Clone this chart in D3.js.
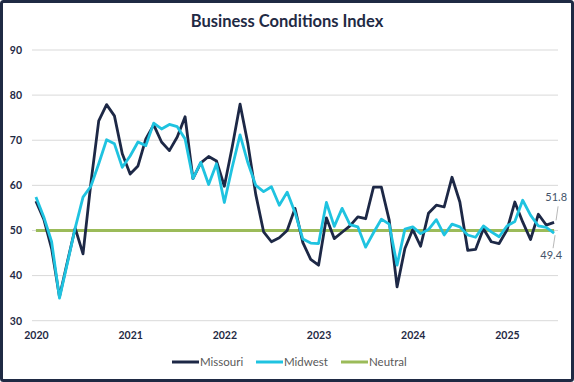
<!DOCTYPE html>
<html><head><meta charset="utf-8">
<script src="https://cdn.jsdelivr.net/npm/d3@7"></script>
<style>html,body{margin:0;padding:0;background:#fff;}svg{display:block;}</style>
</head><body><svg id="c" width="574" height="382"></svg>
<script>
const startMonth = "2020-01";
const endMonth = "2025-07";
const missouri = [56.5,52.5,46,35.3,43,50.5,44.8,60.5,74.3,77.9,75.4,67,
  62.5,64.3,70.3,73.4,69.6,67.7,70.7,75.2,61.5,65,66.4,65.4,
  59.8,68.5,78,69.2,58,49.7,47.5,48.4,50,54.9,47.3,43.6,
  42.3,52.8,48.2,49.6,51,53,52.6,59.6,59.6,52.3,37.5,46,
  50.2,46.5,53.8,55.6,55.2,61.8,56.3,45.6,45.8,50.4,47.5,47.1,
  50.1,56.3,51.9,48,53.6,51.2,51.8];
const midwest = [57.4,53,47.5,35,42.7,50.5,57.4,59.8,64.8,70.1,69.2,64,
  66.5,69.6,68.8,73.8,72.5,73.5,73,70.3,61.5,65.1,60.2,64.8,
  56.2,64,71.2,65,60,58.6,59.7,55.6,58.5,54,48.1,47.2,
  47.1,56.2,50.9,54.9,51.3,50.8,46.3,49.5,52.5,51.4,42.3,50.3,
  50.8,49.3,50.2,52.4,49,51.4,50.8,49,48.5,51,49.7,48.6,
  51,52,56.7,53.4,51,50.7,49.4];
const neutralValue = 50;
const yTicks = [30,40,50,60,70,80,90];
const xTickLabels = ["2020","2021","2022","2023","2024","2025"];
const seriesNames = ["Missouri","Midwest","Neutral"];

const months = d3.timeMonth.range(d3.timeParse("%Y-%m")(startMonth), d3.timeMonth.offset(d3.timeParse("%Y-%m")(endMonth),1));
const fmt = d3.timeFormat("%Y-%m");
const cats = months.map(fmt);
const neutral = cats.map(() => neutralValue);

const colors = {Missouri:"#1d2846", Midwest:"#1fc3e0", Neutral:"#9bbb59"};
const navy = "#1f2a44";
const svg = d3.select("#c");
svg.append("rect").attr("x",1.5).attr("y",1.5).attr("width",571).attr("height",379).attr("rx",2)
  .attr("fill","#fff").attr("stroke",navy).attr("stroke-width",3);

svg.append("text").attr("x",287).attr("y",27).attr("text-anchor","middle")
  .attr("font-family","Lato, 'Open Sans', sans-serif").attr("font-weight","bold")
  .attr("font-size",16.5).attr("fill",navy).text("Business Conditions Index");

const x = d3.scalePoint().domain(cats).range([32,558]).padding(0.5);
const y = d3.scaleLinear().domain([30,90]).range([320.7,50]);

const grid = svg.append("g");
grid.selectAll("line").data(yTicks).join("line")
  .attr("x1",32).attr("x2",558).attr("y1",d=>y(d)).attr("y2",d=>y(d))
  .attr("stroke","#d9d9d9").attr("stroke-width",1);

const yAxis = d3.axisLeft(y).tickValues(yTicks).tickSize(0).tickPadding(0);
const gy = svg.append("g").attr("transform","translate(22,0)").call(yAxis);
gy.select(".domain").remove();
gy.selectAll("text").attr("font-family","Lato, 'Open Sans', sans-serif").attr("font-weight","bold")
  .attr("font-size",10.5).attr("fill",navy);

const xAxis = d3.axisBottom(x).tickValues(xTickLabels.map(t=>t+"-01")).tickFormat(d=>d.slice(0,4)).tickSize(0).tickPadding(0);
const gx = svg.append("g").attr("transform","translate(0,332)").call(xAxis);
gx.select(".domain").remove();
gx.selectAll("text").attr("font-family","Lato, 'Open Sans', sans-serif").attr("font-weight","bold")
  .attr("font-size",10.5).attr("fill",navy);

const line = d3.line().x((d,i)=>x(cats[i])).y(d=>y(d));
svg.append("path").datum(neutral).attr("d",line).attr("fill","none")
  .attr("stroke",colors.Neutral).attr("stroke-width",3);
svg.append("path").datum(missouri).attr("d",line).attr("fill","none")
  .attr("stroke",colors.Missouri).attr("stroke-width",2.8).attr("stroke-linejoin","round");
svg.append("path").datum(midwest).attr("d",line).attr("fill","none")
  .attr("stroke",colors.Midwest).attr("stroke-width",2.8).attr("stroke-linejoin","round");

// end labels
const li = cats.length-1, lx = x(cats[li]);
const lab = svg.append("g").attr("font-family","Lato, 'Open Sans', sans-serif").attr("font-size",11).attr("fill","#44546a");
lab.append("line").attr("x1",lx+2).attr("y1",y(missouri[li])-2).attr("x2",lx+4).attr("y2",y(missouri[li])-16).attr("stroke","#a6a6a6").attr("stroke-width",0.8);
lab.append("text").attr("x",lx+13).attr("y",y(missouri[li])-21).attr("text-anchor","end").text(missouri[li].toFixed(1));
lab.append("line").attr("x1",lx+1).attr("y1",y(midwest[li])+2).attr("x2",lx-1).attr("y2",y(midwest[li])+15).attr("stroke","#a6a6a6").attr("stroke-width",0.8);
lab.append("text").attr("x",lx+8).attr("y",y(midwest[li])+26).attr("text-anchor","end").text(midwest[li].toFixed(1));

// legend
const legX = [172,256,341];
const leg = svg.append("g");
seriesNames.forEach((n,i)=>{
  leg.append("line").attr("x1",legX[i]).attr("x2",legX[i]+27).attr("y1",362).attr("y2",362)
    .attr("stroke",colors[n]).attr("stroke-width",3);
  leg.append("text").attr("x",legX[i]+28).attr("y",366).attr("font-family","Lato, 'Open Sans', sans-serif")
    .attr("font-size",11.5).attr("fill","#595959").text(n);
});
</script></body></html>
